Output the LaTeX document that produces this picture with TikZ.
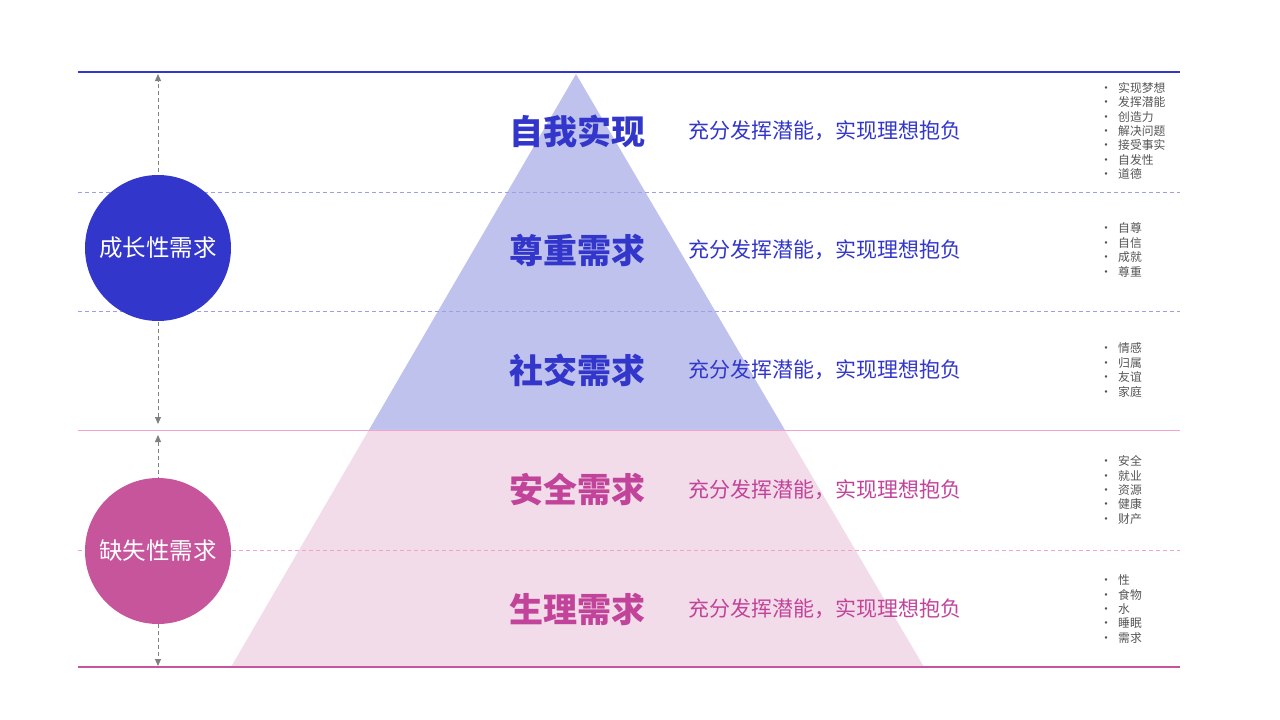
\documentclass[tikz,border=0pt]{standalone}
\usepackage{fontspec}
\setmainfont{Noto Sans CJK SC}
\usetikzlibrary{positioning, arrows.meta, calc}
\definecolor{growblue}{HTML}{3236CB}
\definecolor{growlight}{HTML}{C0C2EE}
\definecolor{growdash}{HTML}{9C9EEA}
\definecolor{lackpink}{HTML}{C7559C}
\definecolor{lacktext}{HTML}{C2449A}
\definecolor{lacklight}{HTML}{F2DCE9}
\definecolor{lackline}{HTML}{EFA3CD}
\definecolor{notegray}{HTML}{555555}
\tikzset{
  level/.style={font=\fontsize{34}{34}\selectfont\bfseries, inner sep=0pt},
  motto/.style={font=\fontsize{21}{21}\selectfont, inner sep=0pt},
  group/.style={circle, minimum size=146pt, inner sep=0pt, text=white, font=\fontsize{23.5}{23.5}\selectfont},
  points/.style={anchor=west, align=left, text=notegray, inner sep=0pt, font=\fontsize{11.8}{14.4}\selectfont},
  sep/.style={dash pattern=on 4pt off 3pt, line width=0.8pt},
  span/.style={gray, dash pattern=on 4pt off 3pt, line width=1pt, {Triangle[length=7pt,width=6pt]}-{Triangle[length=7pt,width=6pt]}}
}
\newcommand{\bulletitem}[1]{\makebox[18pt][l]{\fontsize{12}{12}\selectfont•}#1}

\begin{document}
\begin{tikzpicture}[x=1pt, y=-1pt]
    \useasboundingbox (0,0) rectangle (1280,720);

    % pyramid
    \coordinate (apex) at (576,74);
    \coordinate (bl) at (231,667);
    \coordinate (br) at (924,667);
    \coordinate (ml) at ($(apex)!0.6003!(bl)$);
    \coordinate (mr) at ($(apex)!0.6003!(br)$);
    \fill[growlight] (apex) -- (mr) -- (ml) -- cycle;
    \fill[lacklight] (ml) -- (mr) -- (br) -- (bl) -- cycle;

    % horizontal rules
    \draw[growblue, line width=2pt] (78,72) -- (1180,72);
    \draw[growdash, sep] (78,192) -- (1180,192);
    \draw[growdash, sep] (78,311) -- (1180,311);
    \draw[lackline, line width=1pt] (78,430) -- (1180,430);
    \draw[lackline, sep] (78,550) -- (1180,550);
    \draw[lackpink, line width=2pt] (78,667) -- (1180,667);

    % span arrows
    \coordinate (g1) at (158,74);
    \coordinate (g2) at (158,424);
    \coordinate (d1) at (158,435);
    \coordinate (d2) at (158,666);
    \draw[span] (g2) -- (g1);
    \draw[span] (d1) -- (d2);

    \node (grow) [group, fill=growblue] at (158,248) {成长性需求};
    \node (lack) [group, fill=lackpink] at (158,551) {缺失性需求};

    % levels
    \node (l1) [level, text=growblue] at (577,131) {自我实现};
    \node (l2) [level, text=growblue] at (577,250) {尊重需求};
    \node (l3) [level, text=growblue] at (577,370) {社交需求};
    \node (l4) [level, text=lacktext] at (577,490) {安全需求};
    \node (l5) [level, text=lacktext] at (577,609) {生理需求};

    \node (m1) [motto, text=growblue, right=43pt of l1] {充分发挥潜能，实现理想抱负};
    \node (m2) [motto, text=growblue, right=43pt of l2] {充分发挥潜能，实现理想抱负};
    \node (m3) [motto, text=growblue, right=43pt of l3] {充分发挥潜能，实现理想抱负};
    \node (m4) [motto, text=lacktext, right=43pt of l4] {充分发挥潜能，实现理想抱负};
    \node (m5) [motto, text=lacktext, right=43pt of l5] {充分发挥潜能，实现理想抱负};

    % notes
    \node (n1) [points] at (1100,131) {\bulletitem{实现梦想}\\\bulletitem{发挥潜能}\\\bulletitem{创造力}\\\bulletitem{解决问题}\\\bulletitem{接受事实}\\\bulletitem{自发性}\\\bulletitem{道德}};
    \node (n2) [points] at (1100,250) {\bulletitem{自尊}\\\bulletitem{自信}\\\bulletitem{成就}\\\bulletitem{尊重}};
    \node (n3) [points] at (1100,370) {\bulletitem{情感}\\\bulletitem{归属}\\\bulletitem{友谊}\\\bulletitem{家庭}};
    \node (n4) [points] at (1100,490) {\bulletitem{安全}\\\bulletitem{就业}\\\bulletitem{资源}\\\bulletitem{健康}\\\bulletitem{财产}};
    \node (n5) [points] at (1100,609) {\bulletitem{性}\\\bulletitem{食物}\\\bulletitem{水}\\\bulletitem{睡眠}\\\bulletitem{需求}};
\end{tikzpicture}
\end{document}
